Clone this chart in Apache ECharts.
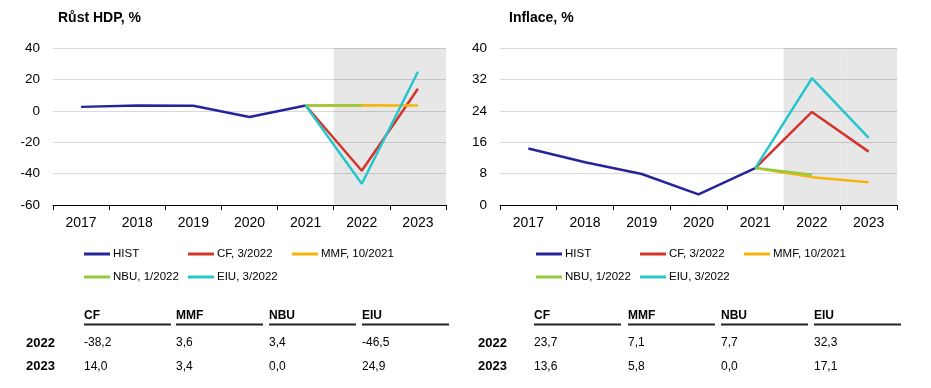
<!DOCTYPE html>
<html>
<head>
<meta charset="utf-8">
<script src="https://cdn.jsdelivr.net/npm/echarts@6/dist/echarts.min.js"></script>
<style>html,body{margin:0;padding:0;background:#fff}#c{width:931px;height:388px}</style>
</head>
<body>
<div id="c"></div>
<script>
const years = ['2017','2018','2019','2020','2021','2022','2023'];
const seriesNames = ['HIST','CF, 3/2022','MMF, 10/2021','NBU, 1/2022','EIU, 3/2022'];
const tableHeaders = ['CF','MMF','NBU','EIU'];
const tableYears = ['2022','2023'];
const forecastYears = ['2022','2023'];

// GDP growth, %
const gdpHist = [2.5, 3.4, 3.2, -4.0, 3.4, null, null];
const gdpCF   = [null, null, null, null, 3.4, -38.2, 14.0];
const gdpMMF  = [null, null, null, null, 3.4, 3.6, 3.4];
const gdpNBU  = [null, null, null, null, 3.4, 3.4, null];
const gdpEIU  = [null, null, null, null, 3.4, -46.5, 24.9];
const gdpTicks = [-60, -40, -20, 0, 20, 40];

// Inflation, %
const infHist = [14.4, 10.9, 7.9, 2.7, 9.4, null, null];
const infCF   = [null, null, null, null, 9.4, 23.7, 13.6];
const infMMF  = [null, null, null, null, 9.4, 7.1, 5.8];
const infNBU  = [null, null, null, null, 9.4, 7.7, null];
const infEIU  = [null, null, null, null, 9.4, 32.3, 17.1];
const infTicks = [0, 8, 16, 24, 32, 40];

const colors = ['#25249a', '#d2352b', '#f7b50c', '#97c93d', '#26c6cc'];
const bandColor = 'rgba(0,0,0,0.095)';
const FONT = '"Liberation Sans", Arial, sans-serif';

const chart = echarts.init(document.getElementById('c'), null, {renderer: 'canvas'});

function xAxisCfg(gi) {
  return {
    type: 'category', gridIndex: gi, data: years, boundaryGap: true,
    axisLine: {onZero: false, lineStyle: {color: '#000', width: 1}},
    axisTick: {show: true, length: 5, lineStyle: {color: '#000'}},
    axisLabel: {color: '#000', fontSize: 14, fontFamily: FONT, margin: 11}
  };
}
function yAxisCfg(gi, ticks) {
  return {
    type: 'value', gridIndex: gi, min: ticks[0], max: ticks[ticks.length - 1],
    interval: ticks[1] - ticks[0],
    axisLine: {show: false}, axisTick: {show: false},
    splitLine: {lineStyle: {color: '#d9d9d9', width: 1}},
    axisLabel: {color: '#000', fontSize: 13.5, fontFamily: FONT, margin: 13}
  };
}

// shaded forecast band built from bars spanning the full axis range
function bandSeries(gi, ticks) {
  const lo = ticks[0], hi = ticks[ticks.length - 1];
  const out = [];
  [hi, lo].forEach(v => {
    if (v === 0) return;
    out.push({
      type: 'bar', xAxisIndex: gi, yAxisIndex: gi, silent: true, animation: false,
      barWidth: '100%', barGap: '-100%', z: 1,
      itemStyle: {color: bandColor},
      data: years.map(y => forecastYears.indexOf(y) >= 0 ? v : null)
    });
  });
  return out;
}

function makeSeries(gi, arrs) {
  return arrs.map((d, i) => ({
    name: seriesNames[i], type: 'line', xAxisIndex: gi, yAxisIndex: gi,
    data: d, symbol: 'none', connectNulls: false, animation: false,
    lineStyle: {color: colors[i], width: 2.5}, itemStyle: {color: colors[i]},
    z: 3 + i
  }));
}

const legendPos = [[84, 0], [188, 0], [292, 0], [84, 1], [188, 1]];
const legends = [];
[0, 452].forEach(off => {
  legendPos.forEach((p, i) => {
    legends.push({
      data: [seriesNames[i]], left: p[0] + off, top: 248 + p[1] * 23,
      icon: 'rect', itemWidth: 26, itemHeight: 3, selectedMode: false,
      textStyle: {color: '#000', fontSize: 11.5, fontFamily: FONT, padding: [0, 0, 0, -2]},
      padding: 0
    });
  });
});

function fmt(v) { return (v == null ? 0 : v).toFixed(1).replace('.', ','); }

function tableGraphics(rowLabelX, colX, arrs) {
  const g = [];
  const lineLen = 87;
  tableHeaders.forEach((h, j) => {
    g.push({type: 'text', left: colX[j], top: 310,
      style: {text: h, font: 'bold 12px ' + FONT, fill: '#000'}});
    g.push({type: 'rect', shape: {x: colX[j], y: 323.5, width: lineLen, height: 2},
      style: {fill: '#222'}});
  });
  tableYears.forEach((y, r) => {
    const yy = 337 + r * 23.5;
    g.push({type: 'text', left: rowLabelX, top: yy - 0.5,
      style: {text: y, font: 'bold 13px ' + FONT, fill: '#000'}});
    const idx = years.indexOf(y);
    arrs.forEach((a, j) => {
      g.push({type: 'text', left: colX[j], top: yy,
        style: {text: fmt(a[idx]), font: '12px ' + FONT, fill: '#000'}});
    });
  });
  return g;
}

const graphics = []
  .concat(tableGraphics(26, [84, 176, 269, 362], [gdpCF, gdpMMF, gdpNBU, gdpEIU]))
  .concat(tableGraphics(478, [534, 628, 721, 814], [infCF, infMMF, infNBU, infEIU]));

chart.setOption({
  animation: false,
  textStyle: {fontFamily: FONT},
  title: [
    {text: 'Růst HDP, %', left: 58, top: 11, textStyle: {fontSize: 14, fontWeight: 'bold', color: '#000', fontFamily: FONT}, padding: 0},
    {text: 'Inflace, %', left: 509, top: 11, textStyle: {fontSize: 14, fontWeight: 'bold', color: '#000', fontFamily: FONT}, padding: 0}
  ],
  grid: [
    {left: 53, top: 48, width: 393, height: 157},
    {left: 500, top: 48, width: 397, height: 157}
  ],
  xAxis: [xAxisCfg(0), xAxisCfg(1)],
  yAxis: [yAxisCfg(0, gdpTicks), yAxisCfg(1, infTicks)],
  legend: legends,
  series: bandSeries(0, gdpTicks)
    .concat(bandSeries(1, infTicks))
    .concat(makeSeries(0, [gdpHist, gdpCF, gdpMMF, gdpNBU, gdpEIU]))
    .concat(makeSeries(1, [infHist, infCF, infMMF, infNBU, infEIU])),
  graphic: graphics
});
</script>
</body>
</html>
